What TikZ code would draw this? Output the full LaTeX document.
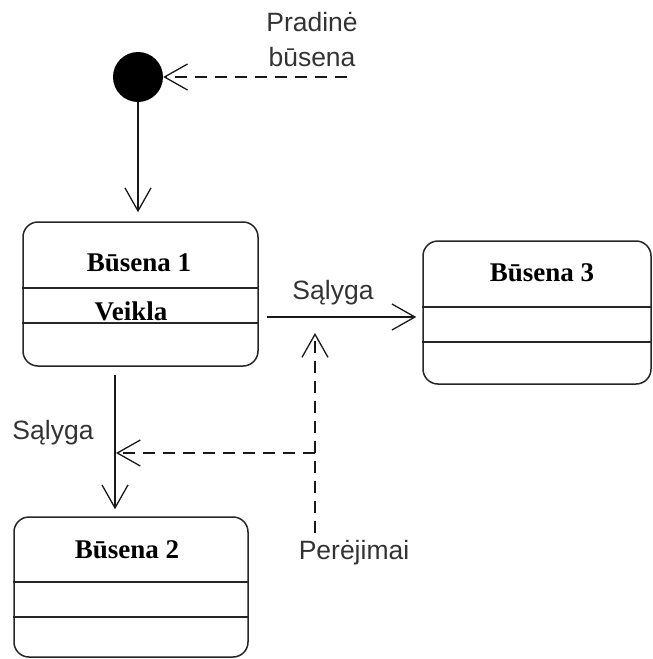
\documentclass[tikz,border=0pt]{standalone}
\usepackage{fontspec}
\setmainfont{Liberation Serif}
\newfontfamily\labelfont{Liberation Sans}
\usetikzlibrary{arrows.meta,calc}

\begin{document}
\begin{tikzpicture}[x=1pt,y=-1pt,
  statebox/.style={draw=black!85, line width=1.5pt, rounded corners=15pt,
    inner sep=0pt, fill=white},
  divider/.style={draw=black!85, line width=1.5pt},
  title/.style={font=\fontsize{27}{30}\selectfont\bfseries, inner sep=0pt},
  lbl/.style={font=\labelfont\fontsize{26.5}{35}\selectfont, text=black!80,
    inner sep=0pt, align=center},
  flow/.style={draw=black!90, line width=1.3pt,
    -{Straight Barb[length=23pt,width=26pt]}},
  hint/.style={flow, dash pattern=on 12pt off 8pt}]

  \useasboundingbox (0,0) rectangle (653,659);

  % initial pseudo-state
  \node[circle, fill=black, minimum size=50pt, inner sep=0pt] (init) at (138,77) {};
  \coordinate (initnote) at (347,77);
  \node[lbl] (initlbl) at (312,40) {Pradinė\\būsena};

  % states
  \node[statebox, minimum width=235pt, minimum height=144pt] (b1) at (140.5,294) {};
  \node[statebox, minimum width=228pt, minimum height=143pt] (b3) at (537,312.5) {};
  \node[statebox, minimum width=234pt, minimum height=140pt] (b2) at (131,587) {};

  % compartments
  \draw[divider] (b1.west |- 0,288) -- (b1.east |- 0,288);
  \draw[divider] (b1.west |- 0,323) -- (b1.east |- 0,323);
  \draw[divider] (b3.west |- 0,307) -- (b3.east |- 0,307);
  \draw[divider] (b3.west |- 0,342) -- (b3.east |- 0,342);
  \draw[divider] (b2.west |- 0,582) -- (b2.east |- 0,582);
  \draw[divider] (b2.west |- 0,617) -- (b2.east |- 0,617);

  \node[title] (t1) at (139,263) {Būsena 1};
  \node[title, anchor=base] (act1) at (131,320) {Veikla};
  \node[title] (t3) at (542,273) {Būsena 3};
  \node[title] (t2) at (127,550) {Būsena 2};

  % transitions
  \draw[flow, shorten >=9pt] (init.south) -- (init.south |- b1.north);
  \draw[flow, shorten <=8pt, shorten >=6pt] (b1.east |- 0,317) -- (b3.west |- 0,317);
  \node[lbl] (c13) at (333,293) {Sąlyga};
  \draw[flow, shorten <=8pt, shorten >=7pt] (b1.south -| 115,0) -- (b2.north -| 115,0);
  \node[lbl] (c12) at (53,433) {Sąlyga};

  % annotation pointers
  \draw[hint] (initnote) -- (init.east);
  \node[lbl] (trlbl) at (354,553) {Perėjimai};
  \coordinate (trfoot) at (315,533);
  \coordinate (trtop) at (315,333);
  \coordinate (trjoin) at (315,453);
  \coordinate (trleft) at (116,453);
  \draw[hint] (trfoot) -- (trtop);
  \draw[hint] (trjoin) -- (trleft);
\end{tikzpicture}
\end{document}
